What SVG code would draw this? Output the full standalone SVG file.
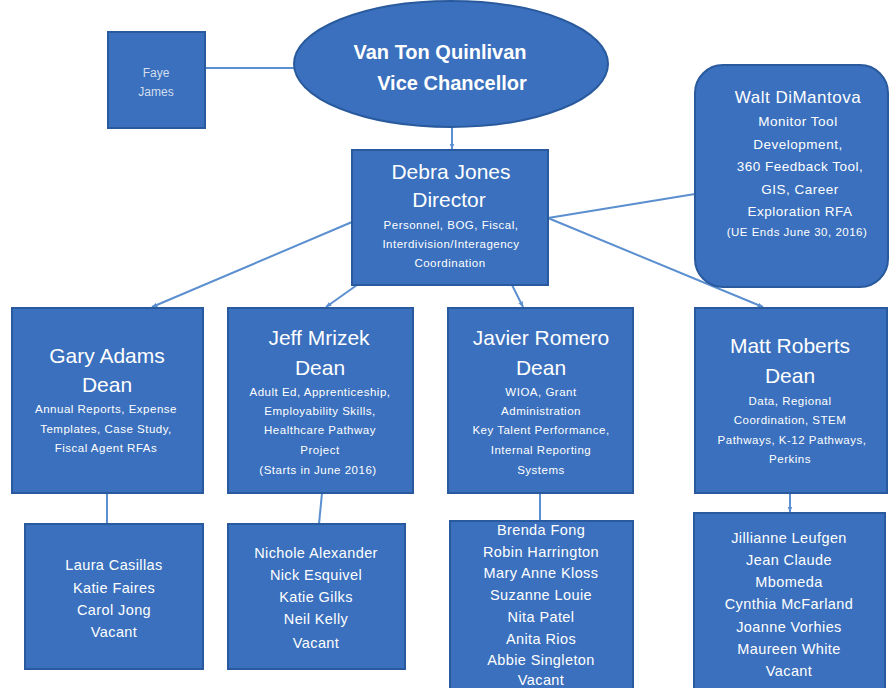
<svg xmlns="http://www.w3.org/2000/svg" width="892" height="688" viewBox="0 0 892 688">
<defs>
<marker id="arr" viewBox="0 0 10 10" refX="9" refY="5" markerWidth="6" markerHeight="6" orient="auto-start-reverse" markerUnits="userSpaceOnUse">
<path d="M0,1 L10,5 L0,9 z" fill="#5b8fd0"/>
</marker>
<style>
.box{fill:#3a70bd;stroke:#2a5a9e;stroke-width:2}
.ln{stroke:#5b8fd0;stroke-width:2;fill:none}
text{font-family:"Liberation Sans","Open Sans",sans-serif;fill:#ffffff;text-anchor:middle}
.big{font-size:21px}
.bold{font-size:20px;font-weight:bold}
.sm{font-size:11.5px;letter-spacing:0.5px}
.md{font-size:13.5px;letter-spacing:0.5px}
.nm{font-size:14.5px;letter-spacing:0.4px}
.faint{font-size:12px;fill:#d3deef}
</style>
</defs>
<rect width="892" height="688" fill="#ffffff"/>
<g id="connectors">
<line class="ln" x1="205" y1="68" x2="296" y2="68"/>
<line class="ln" x1="452" y1="127" x2="452" y2="149" marker-end="url(#arr)"/>
<line class="ln" x1="548" y1="218" x2="695" y2="194"/>
<line class="ln" x1="352" y1="222" x2="152" y2="307" marker-end="url(#arr)"/>
<line class="ln" x1="357" y1="285" x2="326" y2="307" marker-end="url(#arr)"/>
<line class="ln" x1="512" y1="285" x2="523" y2="307" marker-end="url(#arr)"/>
<line class="ln" x1="548" y1="218" x2="763" y2="307" marker-end="url(#arr)"/>
<line class="ln" x1="107" y1="493" x2="107" y2="524"/>
<line class="ln" x1="322" y1="493" x2="319" y2="524"/>
<line class="ln" x1="540" y1="493" x2="540" y2="521"/>
<line class="ln" x1="790" y1="493" x2="790" y2="512" marker-end="url(#arr)"/>
</g>
<g id="faye">
<rect class="box" x="108" y="32" width="97" height="96"/>
<text class="faint" x="156" y="77">Faye</text>
<text class="faint" x="156" y="96">James</text>
</g>
<g id="vanton">
<ellipse class="box" cx="451" cy="64" rx="157" ry="63"/>
<text class="bold" x="440" y="59">Van Ton Quinlivan</text>
<text class="bold" x="452" y="90">Vice Chancellor</text>
</g>
<g id="debra">
<rect class="box" x="352" y="150" width="196" height="135"/>
<text class="big" x="451" y="179">Debra Jones</text>
<text class="big" x="449" y="207">Director</text>
<text class="sm" x="451" y="229">Personnel, BOG, Fiscal,</text>
<text class="sm" x="451" y="248">Interdivision/Interagency</text>
<text class="sm" x="450" y="267">Coordination</text>
</g>
<g id="walt">
<rect class="box" x="695" y="65" width="193" height="222" rx="28"/>
<text x="798" y="103" style="font-size:17px;letter-spacing:0.5px">Walt DiMantova</text>
<text class="md" x="798" y="126">Monitor Tool</text>
<text class="md" x="798" y="149">Development,</text>
<text class="md" x="800" y="171">360 Feedback Tool,</text>
<text class="md" x="800" y="194">GIS, Career</text>
<text class="md" x="800" y="216">Exploration RFA</text>
<text class="sm" x="797" y="236">(UE Ends June 30, 2016)</text>
</g>
<g id="gary">
<rect class="box" x="12" y="308" width="191" height="185"/>
<text class="big" x="107" y="363">Gary Adams</text>
<text class="big" x="107" y="392">Dean</text>
<text class="sm" x="106" y="413">Annual Reports, Expense</text>
<text class="sm" x="106" y="433">Templates, Case Study,</text>
<text class="sm" x="106" y="452">Fiscal Agent RFAs</text>
</g>
<g id="jeff">
<rect class="box" x="228" y="308" width="185" height="185"/>
<text class="big" x="319" y="345">Jeff Mrizek</text>
<text class="big" x="320" y="375">Dean</text>
<text class="sm" x="320" y="396">Adult Ed, Apprenticeship,</text>
<text class="sm" x="320" y="415">Employability Skills,</text>
<text class="sm" x="320" y="434">Healthcare Pathway</text>
<text class="sm" x="320" y="454">Project</text>
<text class="sm" x="318" y="474">(Starts in June 2016)</text>
</g>
<g id="javier">
<rect class="box" x="448" y="308" width="185" height="185"/>
<text class="big" x="541" y="345">Javier Romero</text>
<text class="big" x="541" y="375">Dean</text>
<text class="sm" x="541" y="396">WIOA, Grant</text>
<text class="sm" x="541" y="415">Administration</text>
<text class="sm" x="541" y="434">Key Talent Performance,</text>
<text class="sm" x="541" y="454">Internal Reporting</text>
<text class="sm" x="541" y="474">Systems</text>
</g>
<g id="matt">
<rect class="box" x="695" y="308" width="192" height="185"/>
<text class="big" x="790" y="353">Matt Roberts</text>
<text class="big" x="790" y="383">Dean</text>
<text class="sm" x="790" y="405">Data, Regional</text>
<text class="sm" x="790" y="424">Coordination, STEM</text>
<text class="sm" x="792" y="444">Pathways, K-12 Pathways,</text>
<text class="sm" x="790" y="463">Perkins</text>
</g>
<g id="team-gary">
<rect class="box" x="25" y="524" width="178" height="145"/>
<text class="nm" x="114" y="570">Laura Casillas</text>
<text class="nm" x="114" y="593">Katie Faires</text>
<text class="nm" x="114" y="615">Carol Jong</text>
<text class="nm" x="114" y="637">Vacant</text>
</g>
<g id="team-jeff">
<rect class="box" x="228" y="524" width="177" height="145"/>
<text class="nm" x="316" y="558">Nichole Alexander</text>
<text class="nm" x="316" y="580">Nick Esquivel</text>
<text class="nm" x="316" y="602">Katie Gilks</text>
<text class="nm" x="316" y="624">Neil Kelly</text>
<text class="nm" x="316" y="648">Vacant</text>
</g>
<g id="team-javier">
<rect class="box" x="450" y="521" width="183" height="180"/>
<text class="nm" x="541" y="535">Brenda Fong</text>
<text class="nm" x="541" y="557">Robin Harrington</text>
<text class="nm" x="541" y="578">Mary Anne Kloss</text>
<text class="nm" x="541" y="600">Suzanne Louie</text>
<text class="nm" x="541" y="622">Nita Patel</text>
<text class="nm" x="541" y="644">Anita Rios</text>
<text class="nm" x="541" y="665">Abbie Singleton</text>
<text class="nm" x="541" y="685">Vacant</text>
</g>
<g id="team-matt">
<rect class="box" x="694" y="513" width="191" height="190"/>
<text class="nm" x="789" y="543">Jillianne Leufgen</text>
<text class="nm" x="789" y="565">Jean Claude</text>
<text class="nm" x="789" y="587">Mbomeda</text>
<text class="nm" x="789" y="609">Cynthia McFarland</text>
<text class="nm" x="789" y="632">Joanne Vorhies</text>
<text class="nm" x="789" y="654">Maureen White</text>
<text class="nm" x="789" y="676">Vacant</text>
</g>
</svg>
